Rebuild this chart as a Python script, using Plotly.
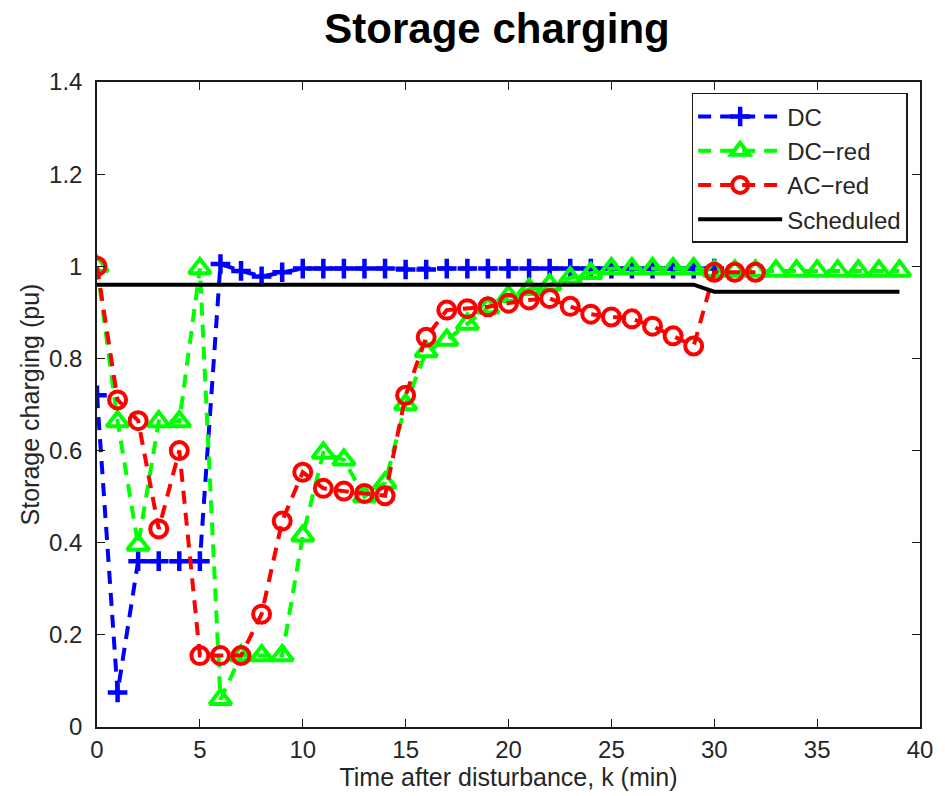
import plotly.graph_objects as go

# Time after disturbance (min)
k_dc = list(range(0, 31))
k_dcred = list(range(0, 40))
k_acred = list(range(0, 33))
k_sched = list(range(0, 40))

# Storage charging (pu)
dc = [0.72, 0.075, 0.36, 0.36, 0.36, 0.36, 1.005, 0.99, 0.978, 0.987,
      0.995, 0.995, 0.995, 0.995, 0.995, 0.993, 0.993, 0.995, 0.995, 0.995,
      0.995, 0.995, 0.995, 0.995, 0.995, 0.995, 0.995, 0.995, 0.995, 0.995,
      0.995]
dc_red = [1.0, 0.663, 0.395, 0.663, 0.663, 0.995, 0.06, 0.155, 0.155, 0.155,
          0.415, 0.595, 0.58, 0.5, 0.53, 0.70, 0.815, 0.84, 0.875, 0.91,
          0.935, 0.95, 0.96, 0.975, 0.985, 0.995, 0.995, 0.995, 0.995, 0.995,
          0.99, 0.99, 0.99, 0.99, 0.99, 0.99, 0.99, 0.99, 0.99, 0.99]
ac_red = [1.0, 0.71, 0.665, 0.43, 0.60, 0.155, 0.155, 0.155, 0.245, 0.447,
          0.553, 0.518, 0.512, 0.507, 0.502, 0.72, 0.846, 0.905, 0.908, 0.912,
          0.92, 0.927, 0.93, 0.913, 0.896, 0.89, 0.886, 0.87, 0.849, 0.827,
          0.987, 0.987, 0.987]
scheduled = [0.96, 0.96, 0.96, 0.96, 0.96, 0.96, 0.96, 0.96, 0.96, 0.96,
             0.96, 0.96, 0.96, 0.96, 0.96, 0.96, 0.96, 0.96, 0.96, 0.96,
             0.96, 0.96, 0.96, 0.96, 0.96, 0.96, 0.96, 0.96, 0.96, 0.96,
             0.945, 0.945, 0.945, 0.945, 0.945, 0.945, 0.945, 0.945, 0.945, 0.945]

x_ticks = [0, 5, 10, 15, 20, 25, 30, 35, 40]
y_ticks = [0, 0.2, 0.4, 0.6, 0.8, 1.0, 1.2, 1.4]
y_tick_text = ["0", "0.2", "0.4", "0.6", "0.8", "1", "1.2", "1.4"]

FONT = "Liberation Sans, Arial, sans-serif"
TXT = "#262626"
DASH = "13px,9px"

fig = go.Figure()

fig.add_trace(go.Scatter(
    x=k_dc, y=dc, name="DC", mode="lines+markers",
    line=dict(color="#0000FF", width=4, dash=DASH),
    marker=dict(symbol="cross-thin", size=14, color="#0000FF",
                line=dict(color="#0000FF", width=4.5)),
))
fig.add_trace(go.Scatter(
    x=k_dcred, y=dc_red, name="DC\u2212red", mode="lines+markers",
    line=dict(color="#00FF00", width=4, dash=DASH),
    marker=dict(symbol="triangle-up-open", size=19, color="#00FF00",
                line=dict(color="#00FF00", width=4)),
))
fig.add_trace(go.Scatter(
    x=k_acred, y=ac_red, name="AC\u2212red", mode="lines+markers",
    line=dict(color="#FF0000", width=4, dash=DASH),
    marker=dict(symbol="circle-open", size=17, color="#FF0000",
                line=dict(color="#FF0000", width=4)),
))
fig.add_trace(go.Scatter(
    x=k_sched, y=scheduled, name="Scheduled", mode="lines",
    line=dict(color="#000000", width=4),
))

axis_common = dict(
    showline=True, linecolor="#1a1a1a", linewidth=1.5, mirror="ticks",
    ticks="inside", ticklen=8, tickwidth=1, tickcolor="#1a1a1a",
    showgrid=False, zeroline=False,
    tickfont=dict(family=FONT, size=24, color=TXT),
)

fig.update_layout(
    width=945, height=796,
    paper_bgcolor="white", plot_bgcolor="white",
    margin=dict(l=97, r=25, t=82, b=66),
    title=dict(text="<b>Storage charging</b>", x=0.526, xanchor="center",
               y=0.965, yanchor="middle",
               font=dict(family=FONT, size=42, color="#000000")),
    xaxis=dict(range=[0, 40], tickvals=x_ticks,
               title=dict(text="Time after disturbance, k (min)", standoff=4,
                          font=dict(family=FONT, size=25, color=TXT)),
               **axis_common),
    yaxis=dict(range=[0, 1.4], tickvals=y_ticks, ticktext=y_tick_text,
               ticklabelstandoff=8,
               title=dict(text="Storage charging (pu)", standoff=2,
                          font=dict(family=FONT, size=25, color=TXT)),
               **axis_common),
    legend=dict(x=0.985, y=0.983, xanchor="right", yanchor="top",
                bgcolor="white", bordercolor="#1a1a1a", borderwidth=1.5,
                font=dict(family=FONT, size=24, color=TXT),
                itemwidth=84, tracegroupgap=0),
    showlegend=True,
)

fig.write_html("out.html")
